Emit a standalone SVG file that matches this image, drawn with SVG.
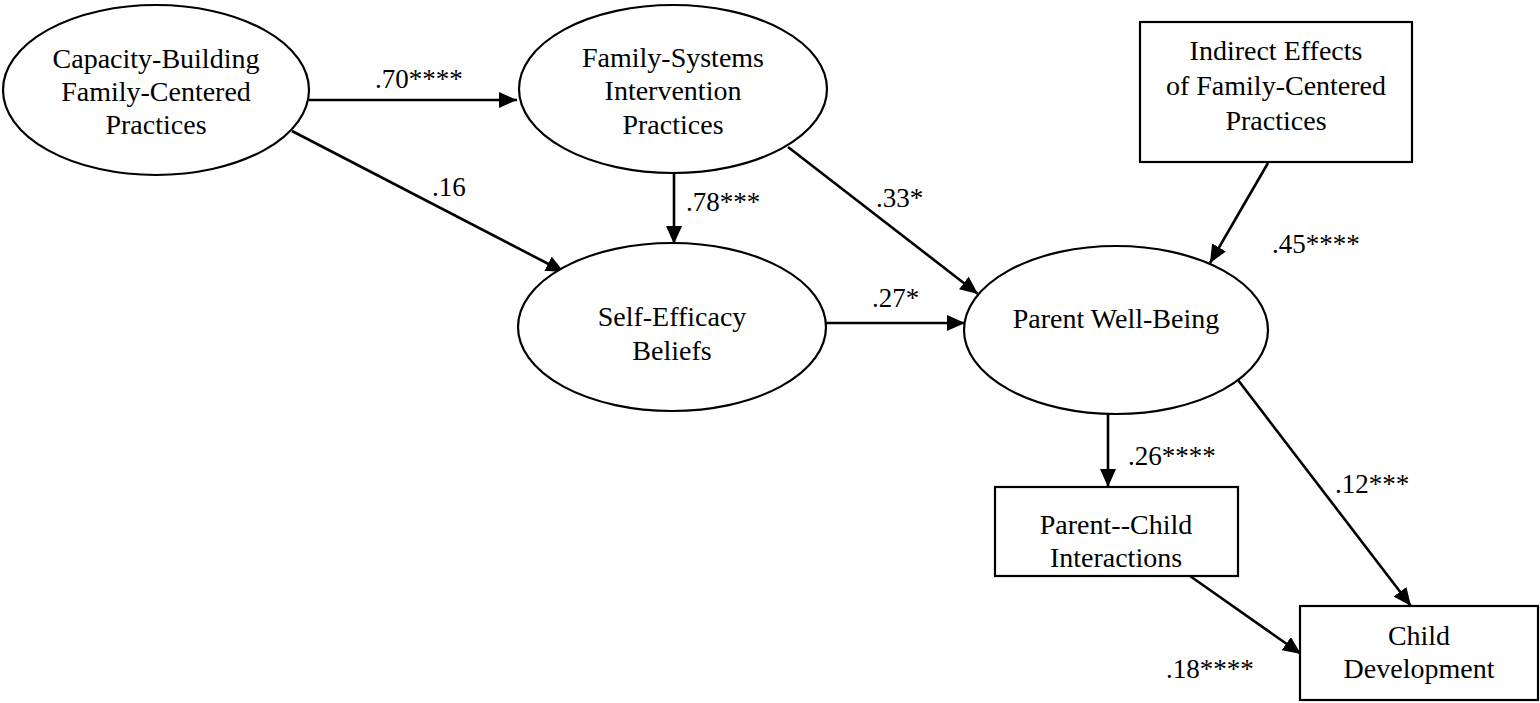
<svg xmlns="http://www.w3.org/2000/svg" width="1540" height="703" viewBox="0 0 1540 703" font-family="'Liberation Serif', 'Times New Roman', serif">
<defs>
<marker id="ah" markerUnits="userSpaceOnUse" markerWidth="20" markerHeight="16" refX="18" refY="8" orient="auto">
<path d="M0,0 L18,8 L0,16 Z" fill="#000"/>
</marker>
<style>
.n{fill:#fff;stroke:#000;stroke-width:2.2}
.t{font-family:'Liberation Serif','Times New Roman',serif;font-size:28px;fill:#000;text-anchor:middle}
.l{font-family:'Liberation Serif','Times New Roman',serif;font-size:27px;fill:#000}
.e{stroke:#000;stroke-width:2.6;fill:none;marker-end:url(#ah)}
</style>
</defs>
<rect width="1540" height="703" fill="#fff"/>
<g id="connectors">
<line class="e" x1="309" y1="100" x2="517" y2="100"/>
<line class="e" x1="292" y1="131" x2="564" y2="272"/>
<line class="e" x1="674" y1="173" x2="674" y2="244"/>
<line class="e" x1="788" y1="147" x2="978" y2="294"/>
<line class="e" x1="826" y1="323" x2="965" y2="323"/>
<line class="e" x1="1268" y1="163" x2="1210" y2="263"/>
<line class="e" x1="1108" y1="414" x2="1108" y2="487"/>
<line class="e" x1="1238" y1="380" x2="1411" y2="606"/>
<line class="e" x1="1190" y1="576" x2="1301" y2="654"/>
<text class="l" x="375" y="88">.70****</text>
<text class="l" x="432" y="196">.16</text>
<text class="l" x="686" y="211">.78***</text>
<text class="l" x="876" y="207">.33*</text>
<text class="l" x="872" y="307">.27*</text>
<text class="l" x="1272" y="253">.45****</text>
<text class="l" x="1128" y="465">.26****</text>
<text class="l" x="1335" y="493">.12***</text>
<text class="l" x="1166" y="678">.18****</text>
</g>
<g id="capacity">
<ellipse class="n" cx="156" cy="90" rx="153" ry="85"/>
<text class="t" x="156" y="68">Capacity-Building</text>
<text class="t" x="156" y="101">Family-Centered</text>
<text class="t" x="156" y="134">Practices</text>
</g>
<g id="family-systems">
<ellipse class="n" cx="673" cy="89" rx="154" ry="84"/>
<text class="t" x="673" y="67">Family-Systems</text>
<text class="t" x="673" y="100">Intervention</text>
<text class="t" x="673" y="134">Practices</text>
</g>
<g id="self-efficacy">
<ellipse class="n" cx="672" cy="327" rx="154" ry="84"/>
<text class="t" x="672" y="326">Self-Efficacy</text>
<text class="t" x="672" y="360">Beliefs</text>
</g>
<g id="parent-well-being">
<ellipse class="n" cx="1116" cy="330" rx="152" ry="84"/>
<text class="t" x="1116" y="328">Parent Well-Being</text>
</g>
<g id="indirect-effects">
<rect class="n" x="1140" y="22" width="272" height="140"/>
<text class="t" x="1276" y="60">Indirect Effects</text>
<text class="t" x="1276" y="95">of Family-Centered</text>
<text class="t" x="1276" y="130">Practices</text>
</g>
<g id="parent-child">
<rect class="n" x="995" y="487" width="243" height="89"/>
<text class="t" x="1116" y="534">Parent--Child</text>
<text class="t" x="1116" y="567">Interactions</text>
</g>
<g id="child-development">
<rect class="n" x="1300" y="606" width="238" height="94"/>
<text class="t" x="1419" y="645">Child</text>
<text class="t" x="1419" y="678">Development</text>
</g>
</svg>
